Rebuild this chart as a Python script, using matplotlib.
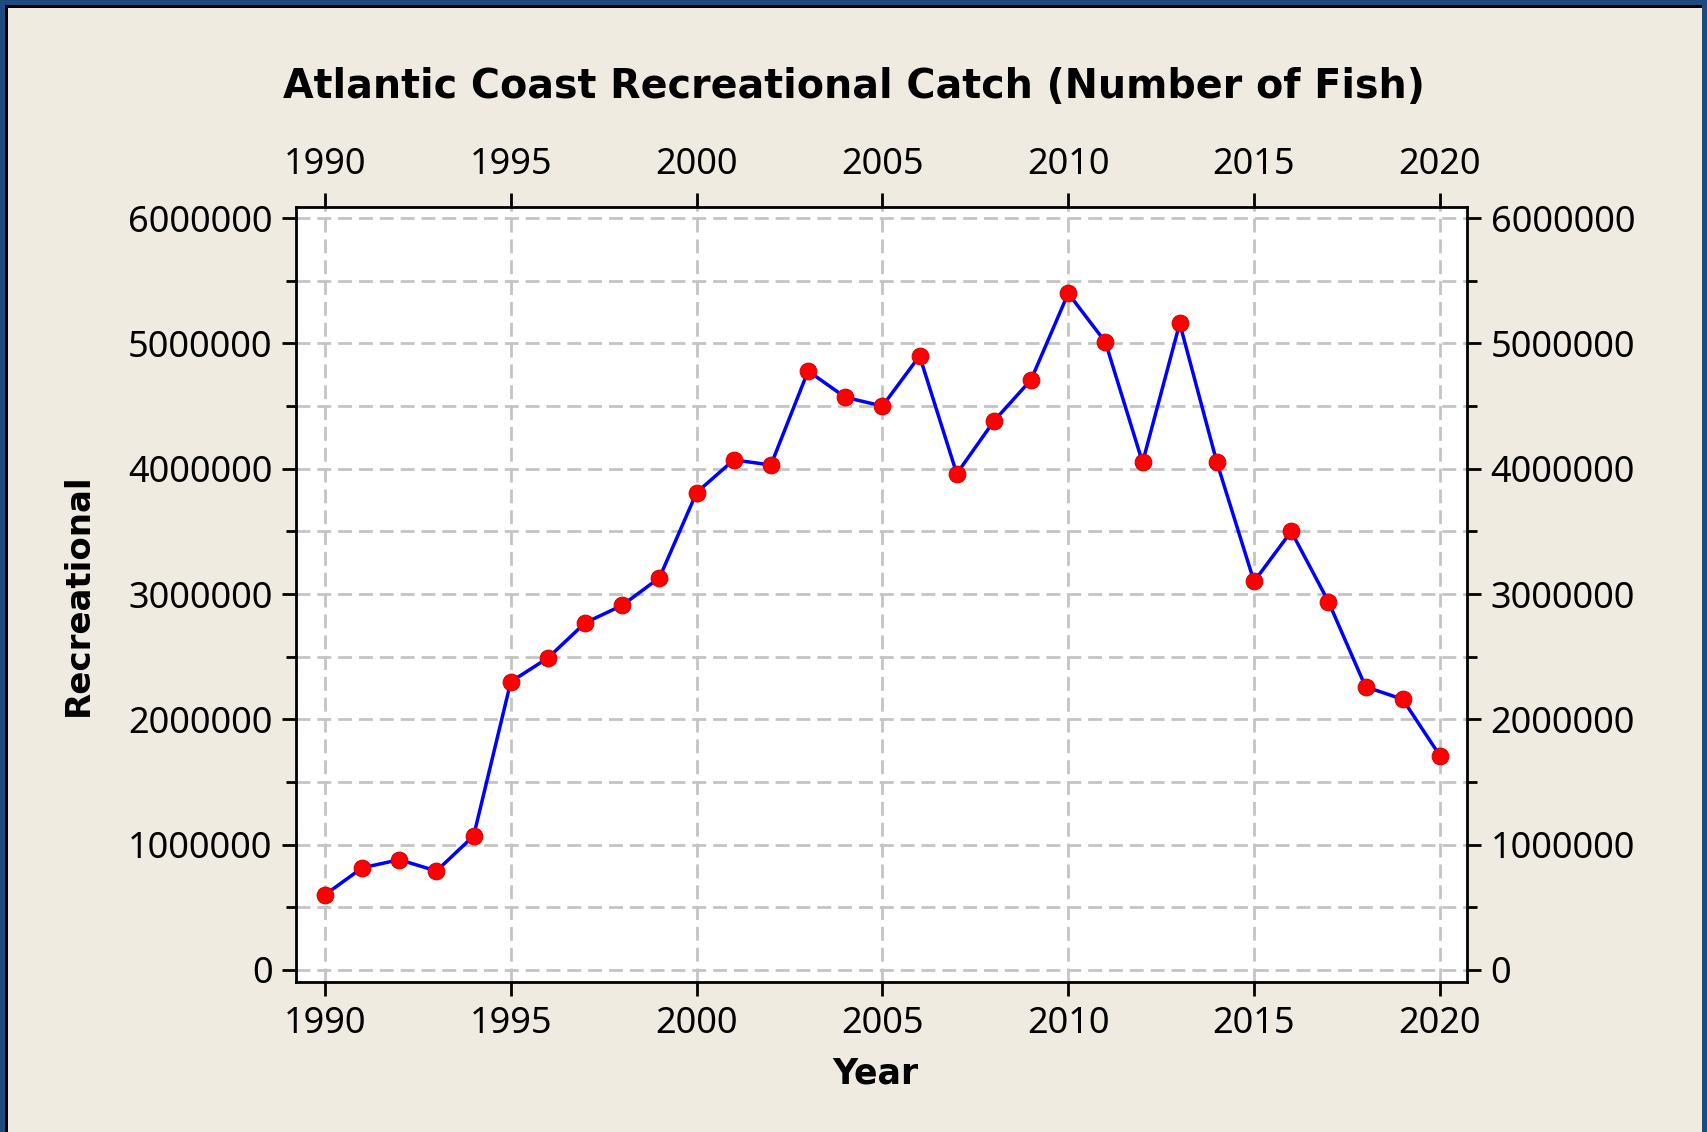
import numpy as np
import matplotlib.pyplot as plt
from matplotlib.ticker import MultipleLocator
from matplotlib.patches import Rectangle

# values
years = list(range(1990, 2021))
catch = [600000, 815000, 880000, 790000, 1070000, 2300000, 2490000, 2770000,
         2910000, 3130000, 3810000, 4070000, 4030000, 4780000, 4570000, 4500000,
         4900000, 3960000, 4380000, 4710000, 5400000, 5010000, 4050000, 5160000,
         4050000, 3100000, 3500000, 2940000, 2260000, 2160000, 1710000]

title = "Atlantic Coast Recreational Catch (Number of Fish)"
xlabel = "Year"
ylabel = "Recreational"

plt.rcParams['font.family'] = ['Noto Sans', 'DejaVu Sans']
bold = ['DejaVu Sans']

W, H = 1708, 1132
bg = '#F0EBE1'
fig = plt.figure(figsize=(W / 100, H / 100), dpi=100, facecolor=bg)
ax = fig.add_axes([0.1733, 0.1325, 0.6856, 0.6846])
ax.set_facecolor('white')

ax.plot(years, catch, color='#0000FF', lw=2.5, zorder=3)
ax.plot(years, catch, 'o', color='#FF0000', markersize=12,
        markeredgecolor='#D80000', markeredgewidth=0.8, zorder=4)

ax.set_xlim(1989.22, 2020.73)
ax.set_ylim(-96000, 6088000)
ax.xaxis.set_major_locator(MultipleLocator(5))
ax.yaxis.set_major_locator(MultipleLocator(1000000))
ax.yaxis.set_minor_locator(MultipleLocator(500000))
ax.ticklabel_format(axis='y', style='plain', useOffset=False)

grid_kw = dict(color='#C4C4C4', lw=2, linestyle=(0, (5, 2.5)))
ax.grid(True, axis='x', which='major', **grid_kw)
ax.grid(True, axis='y', which='both', **grid_kw)
ax.set_axisbelow(True)

for s in ax.spines.values():
    s.set_linewidth(2)
    s.set_color('black')

ax.tick_params(axis='both', which='major', direction='out', length=10, width=2,
               labelsize=26, colors='black')
ax.tick_params(axis='x', which='major', top=True, labeltop=True, pad=7)
ax.tick_params(axis='y', which='major', right=True, labelright=True, pad=7)
ax.tick_params(axis='y', which='minor', direction='out', length=7, width=2,
               left=True, right=True)

fig.suptitle(title, x=0.5, y=0.923, va='center', fontsize=28.5,
             fontweight='bold', family=bold)
ax.set_xlabel(xlabel, fontsize=25, fontweight='bold', family=bold)
ax.xaxis.set_label_coords(0.495, -0.096)
ax.set_ylabel(ylabel, fontsize=24.5, fontweight='bold', family=bold, labelpad=24)

# window-like frame: blue on left, top and right, thin black inner line
blue = '#1F4A7D'
for x0, y0, w, h in [(0, 0, 5, H), (0, H - 5, W, 5), (W - 6, 0, 6, H)]:
    fig.patches.append(Rectangle((x0 / W, y0 / H), w / W, h / H, transform=fig.transFigure,
                                 facecolor=blue, edgecolor='none', zorder=10))
for x0, y0, w, h in [(5, 0, 2.5, H - 5), (5, H - 7.5, W - 11, 2.5)]:
    fig.patches.append(Rectangle((x0 / W, y0 / H), w / W, h / H, transform=fig.transFigure,
                                 facecolor='black', edgecolor='none', zorder=10))

fig.savefig('out.png', dpi=100, facecolor=bg)
